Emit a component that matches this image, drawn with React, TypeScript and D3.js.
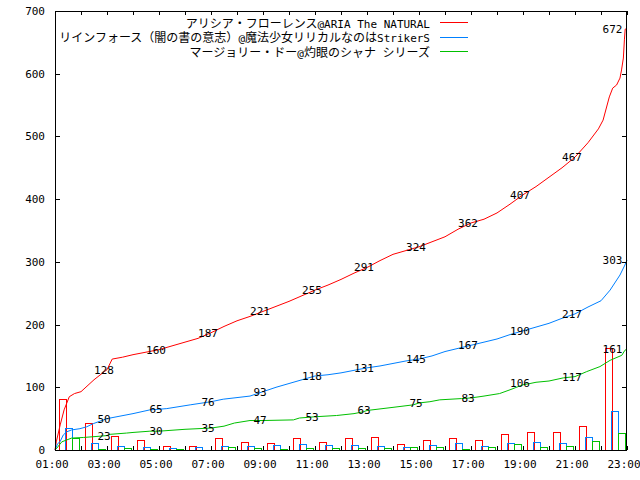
import React from 'react';
import * as d3 from 'd3';

// legend entries, colours follow gnuplot's png palette
const seriesNames = [
  'アリシア・フローレンス@ARIA The NATURAL',
  'リインフォース（闇の書の意志）@魔法少女リリカルなのはStrikerS',
  'マージョリー・ドー@灼眼のシャナ シリーズ',
];
const seriesColors = ['#ff0000', '#0080ff', '#00c000'];

// hourly counts (bar starts at the given hour)
const barHours = [1, 2, 3, 4, 5, 6, 7, 8, 9, 10, 11, 12, 13, 14, 15, 16, 17, 18, 19, 20, 21, 22];
const redCounts = [82, 43, 22, 16, 7, 7, 19, 13, 11, 19, 13, 19, 20, 10, 16, 19, 16, 26, 29, 29, 39, 162];
const blueCounts = [35, 11, 7, 4, 3, 4, 7, 6, 8, 9, 8, 8, 6, 5, 8, 11, 7, 11, 13, 11, 21, 62];
const greenCounts = [19, 1, 3, 2, 1, 0, 4, 3, 1, 3, 3, 3, 3, 5, 4, 1, 4, 10, 4, 7, 14, 27];

// cumulative totals [hour, total]
const redTotal: [number, number][] = [
  [1.0, 0], [1.05, 13], [1.2, 40], [1.35, 64], [1.55, 85], [1.75, 90], [2.0, 93], [2.5, 112],
  [2.9, 125], [3.0, 128], [3.2, 145], [3.6, 148], [4.0, 152], [4.5, 156], [5.0, 160], [5.5, 166],
  [6.0, 172], [6.5, 178], [7.0, 187], [7.5, 197], [8.0, 206], [8.5, 213], [9.0, 221], [9.5, 229],
  [10.0, 237], [10.5, 246], [11.0, 255], [11.5, 263], [12.0, 272], [12.5, 282], [13.0, 291],
  [13.5, 302], [14.0, 312], [14.5, 318], [15.0, 324], [15.5, 332], [16.0, 340], [16.5, 352],
  [17.0, 362], [17.5, 368], [18.0, 378], [18.5, 392], [19.0, 407], [19.5, 420], [20.0, 435],
  [20.5, 450], [21.0, 467], [21.5, 490], [21.9, 512], [22.08, 526], [22.32, 563], [22.45, 577],
  [22.6, 582], [22.73, 593], [22.79, 606], [22.86, 625], [22.9, 654], [22.93, 671], [23.0, 672],
];
const blueTotal: [number, number][] = [
  [1.0, 0], [1.1, 10], [1.19, 13], [1.32, 24], [1.45, 29], [1.64, 32], [1.96, 34], [2.22, 37],
  [2.47, 42], [2.86, 48], [3.0, 50], [3.5, 54], [4.0, 58], [4.65, 64], [5.0, 65], [5.3, 66],
  [6.2, 72], [7.0, 77], [7.47, 81], [8.5, 86], [9.0, 93], [9.5, 100], [10.0, 106], [10.5, 112],
  [11.0, 118], [11.5, 120], [12.0, 123], [12.5, 127], [13.0, 131], [13.5, 134], [14.0, 138],
  [14.5, 142], [15.0, 145], [15.5, 150], [16.0, 157], [16.5, 162], [17.0, 167], [17.5, 172],
  [18.0, 177], [18.5, 184], [19.0, 190], [19.5, 196], [20.0, 202], [20.5, 210], [21.0, 217],
  [21.5, 228], [22.0, 238], [22.35, 255], [22.73, 279], [22.92, 295], [23.0, 303],
];
const greenTotal: [number, number][] = [
  [1.0, 0], [1.07, 3], [1.26, 13], [1.45, 16], [1.64, 19], [2.1, 20], [2.73, 22], [3.0, 23],
  [3.12, 25], [3.75, 27], [4.0, 28], [4.65, 30], [5.0, 30], [6.0, 33], [7.0, 35], [7.5, 38],
  [7.9, 43], [8.5, 47], [9.0, 47], [10.17, 48], [10.4, 51], [11.0, 53], [11.83, 55], [12.5, 58],
  [12.86, 61], [13.0, 63], [14.0, 68], [14.78, 72], [15.0, 75], [15.42, 77], [15.8, 80],
  [16.64, 82], [17.0, 83], [17.5, 86], [18.1, 90], [18.5, 96], [19.0, 104], [19.27, 106],
  [19.5, 108], [20.0, 110], [20.55, 115], [21.0, 117], [21.45, 125], [21.96, 133], [22.35, 143],
  [22.8, 151], [22.92, 159], [23.0, 161],
];

// value labels every two hours (last one pulled in from the edge)
const labelHours = [3, 5, 7, 9, 11, 13, 15, 17, 19, 21, 22.56];
const redLabels = [128, 160, 187, 221, 255, 291, 324, 362, 407, 467, 672];
const blueLabels = [50, 65, 76, 93, 118, 131, 145, 167, 190, 217, 303];
const greenLabels = [23, 30, 35, 47, 53, 63, 75, 83, 106, 117, 161];

const xTickHours = [1, 3, 5, 7, 9, 11, 13, 15, 17, 19, 21, 23];
const xTickLabels = ['01:00', '03:00', '05:00', '07:00', '09:00', '11:00', '13:00', '15:00', '17:00', '19:00', '21:00', '23:00'];
const yTicks = [0, 100, 200, 300, 400, 500, 600, 700];

const MONO = "'DejaVu Sans Mono', monospace";
const CJK = "'Noto Sans CJK JP', sans-serif";

// split legend text into ascii / cjk runs so each gets its own font
function runs(s: string) {
  return s.match(/[\x00-\x7f]+|[^\x00-\x7f]+/g) || [];
}

export default function App() {
  const x = d3.scaleLinear().domain([1, 23]).range([55, 627]);
  const y = d3.scaleLinear().domain([0, 700]).range([450, 11]);
  const line = d3.line<[number, number]>().x(d => x(d[0])).y(d => y(d[1]));

  const counts = [redCounts, blueCounts, greenCounts];
  const totals = [redTotal, blueTotal, greenTotal];
  const labels = [redLabels, blueLabels, greenLabels];
  const barW = x(1.25) - x(1);
  const allHours = d3.range(1, 24);
  const textShift = -3; // gnuplot centres its bitmap text a little to the left

  return (
    <svg width={640} height={480} style={{ position: 'absolute', left: 0, top: 0, background: '#fff' }}>
      <rect x={0} y={0} width={640} height={480} fill="#fff" />

      {/* bars */}
      <g shapeRendering="crispEdges" fill="none" strokeWidth={1}>
        {counts.map((arr, k) =>
          arr.map((v, i) => (
            <rect
              key={`${k}-${i}`}
              x={Math.round(x(barHours[i] + 0.14 + 0.25 * k)) + 0.5}
              y={Math.round(y(v)) + 0.5}
              width={Math.round(barW)}
              height={Math.round(y(0)) - Math.round(y(v))}
              stroke={seriesColors[k]}
            />
          ))
        )}
      </g>

      {/* cumulative lines */}
      <g fill="none" strokeWidth={1}>
        {totals.map((pts, k) => (
          <path key={k} d={line(pts) || ''} stroke={seriesColors[k]} />
        ))}
      </g>

      {/* value labels */}
      <g fontFamily={MONO} fontSize={11} textAnchor="middle" fill="#000">
        {labels.map((arr, k) =>
          arr.map((v, i) => (
            <text key={`${k}-${i}`} x={x(labelHours[i]) + textShift} y={y(v)} dy="0.36em">{v}</text>
          ))
        )}
      </g>

      {/* frame and ticks */}
      <g shapeRendering="crispEdges" stroke="#000" strokeWidth={1}>
        <rect x={55.5} y={11.5} width={571} height={439} fill="none" />
        {allHours.map(h => (
          <g key={h}>
            <line x1={Math.round(x(h)) + 0.5} x2={Math.round(x(h)) + 0.5} y1={450} y2={446} />
            <line x1={Math.round(x(h)) + 0.5} x2={Math.round(x(h)) + 0.5} y1={11} y2={15} />
          </g>
        ))}
        {yTicks.map(t => (
          <g key={t}>
            <line x1={55} x2={60} y1={Math.round(y(t)) + 0.5} y2={Math.round(y(t)) + 0.5} />
            <line x1={622} x2={627} y1={Math.round(y(t)) + 0.5} y2={Math.round(y(t)) + 0.5} />
          </g>
        ))}
      </g>

      {/* tick labels */}
      <g fontFamily={MONO} fontSize={11} fill="#000">
        {yTicks.map(t => (
          <text key={t} x={45} y={y(t)} dy="0.36em" textAnchor="end">{t}</text>
        ))}
        {xTickHours.map((h, i) => (
          <text key={h} x={x(h) + textShift} y={464} dy="0.36em" textAnchor="middle">{xTickLabels[i]}</text>
        ))}
      </g>

      {/* legend */}
      <g fill="#000">
        {seriesNames.map((name, k) => {
          const ly = 22 + k * 14.5;
          return (
            <g key={k}>
              <text x={430} y={ly} dy="0.36em" textAnchor="end">
                {runs(name).map((r, j) =>
                  /[^\x00-\x7f]/.test(r)
                    ? <tspan key={j} fontFamily={CJK} fontSize={12}>{r}</tspan>
                    : <tspan key={j} fontFamily={MONO} fontSize={11} style={{ whiteSpace: 'pre' }}>{r}</tspan>
                )}
              </text>
              <line x1={440} x2={468} y1={Math.round(ly) + 0.5} y2={Math.round(ly) + 0.5}
                stroke={seriesColors[k]} shapeRendering="crispEdges" />
            </g>
          );
        })}
      </g>
    </svg>
  );
}
